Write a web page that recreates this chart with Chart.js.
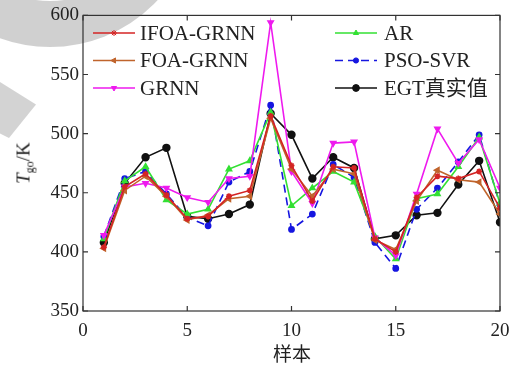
<!DOCTYPE html>
<html>
<head>
<meta charset="utf-8">
<script src="https://cdn.jsdelivr.net/npm/chart.js@4"></script>
<style>
  html, body { margin: 0; padding: 0; background: #fff; }
  #wrap { position: relative; width: 523px; height: 365px; overflow: hidden; background: #fff; }
  #wrap canvas { position: absolute; left: 0; top: 0; z-index: 2; }
  .mark { position: absolute; pointer-events: none; }
  #ring { left: -97px; top: -247px; width: 294px; height: 294px; border-radius: 50%; z-index: 1;
          border: 46px solid rgba(170,170,170,0.55); box-sizing: border-box; }
  #shard { left: 0; top: 82px; width: 36px; height: 56px; background: rgba(175,175,175,0.55); z-index: 1;
           clip-path: polygon(0 0, 100% 40%, 25% 100%, 0 92%); }
  #ytitle { left: 25px; top: 163px; transform: translate(-50%, -50%) rotate(-90deg); z-index: 3;
            font: 19px "Liberation Serif", serif; color: #222; white-space: nowrap; }
  #ytitle sub { font-size: 12px; vertical-align: -4px; }
  #xtitle { left: 292px; top: 352px; transform: translate(-50%, -50%); z-index: 3;
            font: 19px "Noto Sans CJK SC", sans-serif; color: #222; }
</style>
</head>
<body>
<div id="wrap">
  <div class="mark" id="ring"></div>
  <div class="mark" id="shard"></div>
  <canvas id="chart" width="523" height="365"></canvas>
  <div class="mark" id="ytitle"><i>T</i><sub>go</sub>/K</div>
  <div class="mark" id="xtitle">样本</div>
</div>
<script>
const samples = [1, 2, 3, 4, 5, 6, 7, 8, 9, 10, 11, 12, 13, 14, 15, 16, 17, 18, 19, 20];
const xTicks = [0, 5, 10, 15, 20];
const yTicks = [350, 400, 450, 500, 550, 600];

const ifoaGrnn = [404, 455, 466, 448, 428, 430, 447, 452, 515, 473, 443, 472, 471, 411, 400, 446, 464, 462, 468, 437];
const foaGrnn  = [403, 452, 464, 447, 427, 431, 445, 447, 513, 470, 447, 470, 466, 410, 402, 443, 469, 461, 459, 432];
const grnn     = [414, 455, 458, 454, 446, 442, 462, 464, 594, 468, 441, 492, 493, 412, 397, 449, 504, 475, 495, 454];
const ar       = [411, 460, 472, 444, 432, 436, 470, 477, 518, 439, 454, 468, 459, 413, 394, 445, 449, 472, 497, 441];
const psoSvr   = [413, 462, 468, 449, 429, 422, 459, 468, 524, 419, 432, 474, 463, 408, 386, 436, 454, 476, 499, 440];
const egt      = [408, 458, 480, 488, 430, 428, 432, 440, 517, 499, 462, 480, 471, 411, 414, 431, 433, 457, 477, 425];

const toXY = arr => arr.map((v, i) => ({ x: samples[i], y: v }));

const series = [
  { label: 'IFOA-GRNN', data: ifoaGrnn, color: '#d42424', style: 'star', r: 3, rot: 0 },
  { label: 'FOA-GRNN', data: foaGrnn, color: '#c0642c', style: 'triangle', r: 3, rot: -90 },
  { label: 'GRNN', data: grnn, color: '#ee1aee', style: 'triangle', r: 3, rot: 180 },
  { label: 'AR', data: ar, color: '#33e033', style: 'triangle', r: 3, rot: 0 },
  { label: 'PSO-SVR', data: psoSvr, color: '#1616e0', style: 'circle', r: 2.6, rot: 0, dash: [8, 5] },
  { label: 'EGT真实值', data: egt, color: '#111111', style: 'circle', r: 3.4, rot: 0 }
];

const serif = '"Liberation Serif", "Times New Roman", serif';
Chart.defaults.font.family = serif;

// inward MATLAB-style ticks, box and legend inside the axes
const boxPlugin = {
  id: 'box',
  afterDatasetsDraw(chart) {
    const { ctx, chartArea: a, scales: { x, y } } = chart;
    ctx.save();
    ctx.strokeStyle = '#333';
    ctx.lineWidth = 1.2;
    ctx.strokeRect(a.left, a.top, a.right - a.left, a.bottom - a.top);
    ctx.beginPath();
    const L = 5;
    xTicks.forEach(v => {
      const px = x.getPixelForValue(v);
      ctx.moveTo(px, a.bottom); ctx.lineTo(px, a.bottom - L);
      ctx.moveTo(px, a.top); ctx.lineTo(px, a.top + L);
    });
    yTicks.forEach(v => {
      const py = y.getPixelForValue(v);
      ctx.moveTo(a.left, py); ctx.lineTo(a.left + L, py);
      ctx.moveTo(a.right, py); ctx.lineTo(a.right - L, py);
    });
    ctx.stroke();

    // legend
    ctx.font = '21px "Liberation Serif", "Noto Sans CJK SC", serif';
    ctx.textBaseline = 'middle';
    const cols = [{ x0: 93, tx: 140 }, { x0: 335, tx: 384 }];
    chart.data.datasets.forEach((ds, i) => {
      const c = cols[Math.floor(i / 3)];
      const yy = 33 + (i % 3) * 27.5;
      ctx.save();
      ctx.strokeStyle = ds.borderColor;
      ctx.fillStyle = ds.borderColor;
      ctx.lineWidth = ds.borderWidth;
      ctx.setLineDash(ds.borderDash || []);
      ctx.beginPath();
      ctx.moveTo(c.x0, yy); ctx.lineTo(c.x0 + 42, yy);
      ctx.stroke();
      ctx.setLineDash([]);
      ctx.lineWidth = 1;
      Chart.helpers.drawPoint(ctx, {
        pointStyle: ds.pointStyle, radius: ds.pointRadius, rotation: ds.pointRotation, borderWidth: 1
      }, c.x0 + 21, yy);
      ctx.restore();
      ctx.fillStyle = '#222';
      ctx.fillText(ds.label, c.tx, yy + 1);
    });
    ctx.restore();
  }
};

new Chart(document.getElementById('chart'), {
  type: 'line',
  data: {
    datasets: series.map(s => ({
      label: s.label,
      data: toXY(s.data),
      borderColor: s.color,
      backgroundColor: s.color,
      borderWidth: 1.6,
      borderDash: s.dash || [],
      pointStyle: s.style,
      pointRadius: s.r,
      pointRotation: s.rot,
      pointBorderColor: s.color,
      pointBackgroundColor: s.color,
      tension: 0,
      fill: false
    }))
  },
  options: {
    responsive: false,
    animation: false,
    layout: { padding: { top: 13, right: 23, left: 0, bottom: 0 } },
    plugins: { legend: { display: false }, tooltip: { enabled: false } },
    scales: {
      x: {
        type: 'linear', min: 0, max: 20,
        afterBuildTicks: s => { s.ticks = xTicks.map(v => ({ value: v })); },
        afterFit: s => { s.height = 54; },
        grid: { display: false, drawTicks: false },
        border: { display: false },
        ticks: { padding: 9, color: '#222', font: { family: serif, size: 19 } }
      },
      y: {
        min: 350, max: 600,
        afterBuildTicks: s => { s.ticks = yTicks.map(v => ({ value: v })); },
        afterFit: s => { s.width = 83; },
        grid: { display: false, drawTicks: false },
        border: { display: false },
        ticks: { padding: 4, color: '#222', font: { family: serif, size: 19 } }
      }
    }
  },
  plugins: [boxPlugin]
});
</script>
</body>
</html>
